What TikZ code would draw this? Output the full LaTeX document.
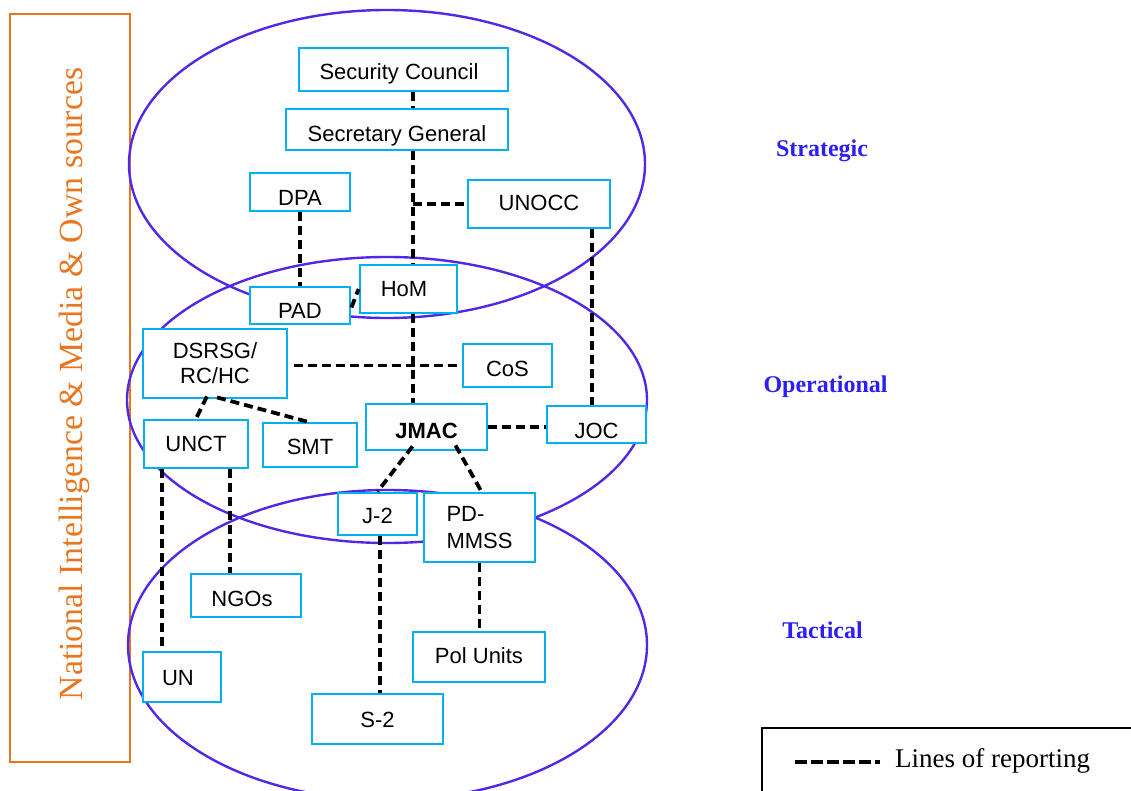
\documentclass[tikz,border=0pt]{standalone}
\usepackage{fontspec}
\setmainfont{Liberation Serif}
\newfontfamily\arialf{Liberation Sans}
\definecolor{boxc}{RGB}{0,176,240}
\definecolor{ellc}{RGB}{80,40,230}
\definecolor{lvlc}{RGB}{45,30,245}
\definecolor{orangec}{RGB}{232,119,34}
\newcommand\tx[3]{\raisebox{#2}{#3\kern#1}}
\begin{document}
\begin{tikzpicture}[x=1pt,y=-1pt,
  box/.style={draw=boxc, fill=white, line width=2.8pt, inner sep=0pt,
    font=\arialf\fontsize{22}{26}\selectfont, text height=20pt, text depth=0pt},
  mbox/.style={draw=boxc, fill=white, line width=2.8pt, inner sep=0pt,
    font=\arialf\fontsize{22}{26}\selectfont},
  rep/.style={draw=black, line width=3.8pt, dash pattern=on 9pt off 5pt},
  lvl/.style={font=\fontsize{24}{28}\selectfont\bfseries, text=lvlc, anchor=base},
  lay/.style={draw=ellc, line width=2.4pt}]
\useasboundingbox (0,0) rectangle (1131,791);

% source column
\node[draw=orangec, line width=2.8pt, minimum width=120pt, minimum height=748pt, inner sep=0pt] (src) at (70,388) {};
\node[rotate=90, anchor=base, text=orangec, font=\fontsize{33.8}{40}\selectfont] (srct) at (82,384) {National Intelligence \& Media \& Own sources};

% layers
\draw[lay] (387,164) ellipse [x radius=258, y radius=154];
\draw[lay] (387,400) ellipse [x radius=260, y radius=143];
\draw[lay] (387.5,645) ellipse [x radius=259.5, y radius=155];

% boxes
\node[box, minimum width=209pt, minimum height=43pt] (sc) at (403.5,69.5) {\tx{9pt}{0pt}{Security Council}};
\node[box, minimum width=222pt, minimum height=41pt] (sg) at (397,129.5) {\tx{0pt}{-2pt}{Secretary General}};
\node[box, minimum width=100pt, minimum height=38pt] (dpa) at (300,192) {\tx{0pt}{-4pt}{DPA}};
\node[box, minimum width=142pt, minimum height=48pt] (unocc) at (539,204) {\tx{0pt}{3pt}{UNOCC}};
\node[box, minimum width=100pt, minimum height=37pt] (pad) at (300,305.5) {\tx{0pt}{-2.5pt}{PAD}};
\node[box, minimum width=97pt, minimum height=48pt] (hom) at (408.5,289) {\tx{9pt}{2pt}{HoM}};
\node[mbox, align=center, minimum width=144pt, minimum height=69pt] (dsrsg) at (215,363.5) {DSRSG/\\[-1pt]RC/HC};
\node[box, minimum width=89pt, minimum height=43pt] (cos) at (507.5,365.5) {\tx{0pt}{-1pt}{CoS}};
\node[box, minimum width=121pt, minimum height=46pt] (jmac) at (426.5,427) {\tx{0pt}{-1pt}{\bfseries JMAC}};
\node[box, minimum width=99pt, minimum height=37pt] (joc) at (596.5,424.5) {\tx{0pt}{-4pt}{JOC}};
\node[box, minimum width=104pt, minimum height=48pt] (unct) at (196,444) {\tx{0pt}{2.5pt}{UNCT}};
\node[box, minimum width=94pt, minimum height=44pt] (smt) at (310,445) {\tx{0pt}{1pt}{SMT}};
\node[box, minimum width=79pt, minimum height=42pt] (j2) at (377.5,514) {\tx{0pt}{0.5pt}{J-2}};
\node[mbox, align=left, minimum width=111pt, minimum height=69pt] (pdm) at (479.5,527.5) {PD-\\[1.5pt]MMSS};
\node[box, minimum width=110pt, minimum height=43pt] (ngos) at (246,595.5) {\tx{8pt}{-1pt}{NGOs}};
\node[box, minimum width=78pt, minimum height=50pt] (un) at (182,677) {\tx{8pt}{2pt}{UN}};
\node[box, minimum width=132pt, minimum height=50pt] (pol) at (479,657) {\tx{0pt}{4pt}{Pol Units}};
\node[box, minimum width=131pt, minimum height=50pt] (s2) at (377.5,719) {\tx{0pt}{2pt}{S-2}};

% reporting lines
\coordinate (spine) at (413,0);
\coordinate (jocx) at (592,0);
\draw[rep] (sc.south -| spine) -- (sg.north -| spine);
\draw[rep] (sg.south -| spine) -- (hom.north -| spine);
\draw[rep] (spine |- unocc.west) -- (unocc.west);
\draw[rep] (dpa.south) -- (pad.north);
\draw[rep] ([yshift=-2pt]pad.east) -- (hom.west);
\draw[rep] (hom.south -| spine) -- (jmac.north -| spine);
\draw[rep] ([xshift=6pt]dsrsg.east |- cos.west) -- (cos.west);
\draw[rep] (unocc.south -| jocx) -- (joc.north -| jocx);
\draw[rep] (jmac.east) -- (jmac.east -| joc.west);
\draw[rep] ([xshift=-14pt,yshift=5pt]jmac.south) -- (j2.north);
\draw[rep] ([xshift=29pt,yshift=6pt]jmac.south) -- ([xshift=2pt]pdm.north);
\draw[rep] ([xshift=-8pt,yshift=3pt]dsrsg.south) -- (unct.north);
\draw[rep] ([xshift=2pt,yshift=2pt]dsrsg.south) -- ([xshift=-3pt]smt.north);
\draw[rep] ([xshift=-34pt]unct.south) -- ([xshift=-34pt]unct.south |- un.north);
\draw[rep] ([xshift=34pt]unct.south) -- ([xshift=34pt]unct.south |- ngos.north);
\draw[rep] ([xshift=2.5pt]j2.south) -- ([xshift=2.5pt]j2.south |- s2.north);
\draw[rep] (pdm.south) -- (pdm.south |- pol.north);

% level labels
\node[lvl] (strat) at (822,157) {Strategic};
\node[lvl] (oper) at (825.5,392) {Operational};
\node[lvl] (tact) at (822.5,638) {Tactical};

% legend
\draw[line width=2.4pt] (762,800) -- (762,728) -- (1140,728);
\coordinate (la) at (795,762);
\coordinate (lb) at (880,762);
\draw[rep, line width=3.4pt, dash pattern=on 12pt off 4pt] (la) -- (lb);
\node[anchor=base west, inner sep=0pt, font=\fontsize{27}{31}\selectfont] (lt) at (895,767) {Lines of reporting};
\end{tikzpicture}
\end{document}
